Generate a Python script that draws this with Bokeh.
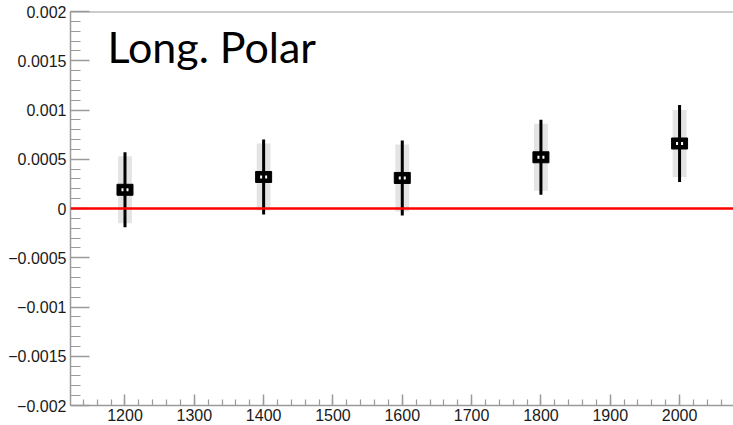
from bokeh.plotting import figure
from bokeh.models import Range1d, FixedTicker, Span, Label
from bokeh.embed import file_html
from bokeh.resources import INLINE

# data
mass = [1200, 1400, 1600, 1800, 2000]
value = [0.00019, 0.00032, 0.00031, 0.00052, 0.00066]
stat_err = [0.00038, 0.00038, 0.00038, 0.00038, 0.00039]
sys_err = [0.00034, 0.00034, 0.00034, 0.00034, 0.00034]
y_ticks = [-0.002, -0.0015, -0.001, -0.0005, 0.0, 0.0005, 0.001, 0.0015, 0.002]
y_tick_labels = ["\u22120.002", "\u22120.0015", "\u22120.001", "\u22120.0005", "0",
                 "0.0005", "0.001", "0.0015", "0.002"]
x_ticks = [1200, 1300, 1400, 1500, 1600, 1700, 1800, 1900, 2000]
title_text = "Long. Polar"

AX = "#9a9a9a"
LAB = "#1a1a1a"

p = figure(width=733, height=425, output_backend="svg", toolbar_location=None,
           x_range=Range1d(1121.4, 2077.8), y_range=Range1d(-0.002, 0.002),
           min_border_left=70, min_border_right=0, min_border_top=11,
           min_border_bottom=20)
p.outline_line_color = None
p.grid.visible = False
p.background_fill_color = "white"
p.border_fill_color = "white"

# axes styling
for ax in (p.xaxis[0], p.yaxis[0]):
    ax.axis_line_color = AX
    ax.axis_line_width = 1.5
    ax.major_tick_line_color = AX
    ax.minor_tick_line_color = AX
    ax.major_tick_line_width = 1.5
    ax.minor_tick_line_width = 1.2
    ax.major_tick_out = 0
    ax.minor_tick_out = 0
    ax.major_label_text_font = "Liberation Sans"
    ax.major_label_text_font_size = "16px"
    ax.major_label_text_color = LAB

p.xaxis.ticker = FixedTicker(ticks=x_ticks,
                             minor_ticks=[1120 + 20 * i for i in range(49)])
p.xaxis.major_tick_in = 11
p.xaxis.minor_tick_in = 6
p.xaxis.major_label_standoff = 3

p.yaxis.ticker = FixedTicker(ticks=y_ticks,
                             minor_ticks=[-0.002 + 0.0001 * i for i in range(41)])
p.yaxis.major_tick_in = 19
p.yaxis.minor_tick_in = 10
p.yaxis.major_label_standoff = 4
p.yaxis.major_label_overrides = {t: s for t, s in zip(y_ticks, y_tick_labels)}

# top frame line
p.add_layout(Span(location=0.002, dimension="width", line_color=AX, line_width=2))

# systematic bands
p.quad(left=[m - 10 for m in mass], right=[m + 10 for m in mass],
       bottom=[v - s for v, s in zip(value, sys_err)],
       top=[v + s for v, s in zip(value, sys_err)],
       fill_color="#e4e4e4", line_color=None)

# zero line
p.add_layout(Span(location=0.0, dimension="width", line_color="#ff0000", line_width=2.5))

# markers
p.rect(x=mass, y=value, width=16, height=11, width_units="screen", height_units="screen",
       fill_color="black", line_color="black")
p.rect(x=mass, y=value, width=7, height=3, width_units="screen", height_units="screen",
       fill_color="white", line_color=None)

# stat error bars
p.segment(x0=mass, x1=mass,
          y0=[v - e for v, e in zip(value, stat_err)],
          y1=[v + e for v, e in zip(value, stat_err)],
          line_color="black", line_width=3)

p.add_layout(Label(x=1174.6, y=0.00164, text=title_text, text_font="Lato",
                   text_font_size="43px", text_color="black",
                   text_baseline="alphabetic"))

open("out.html", "w").write(file_html(p, INLINE))
